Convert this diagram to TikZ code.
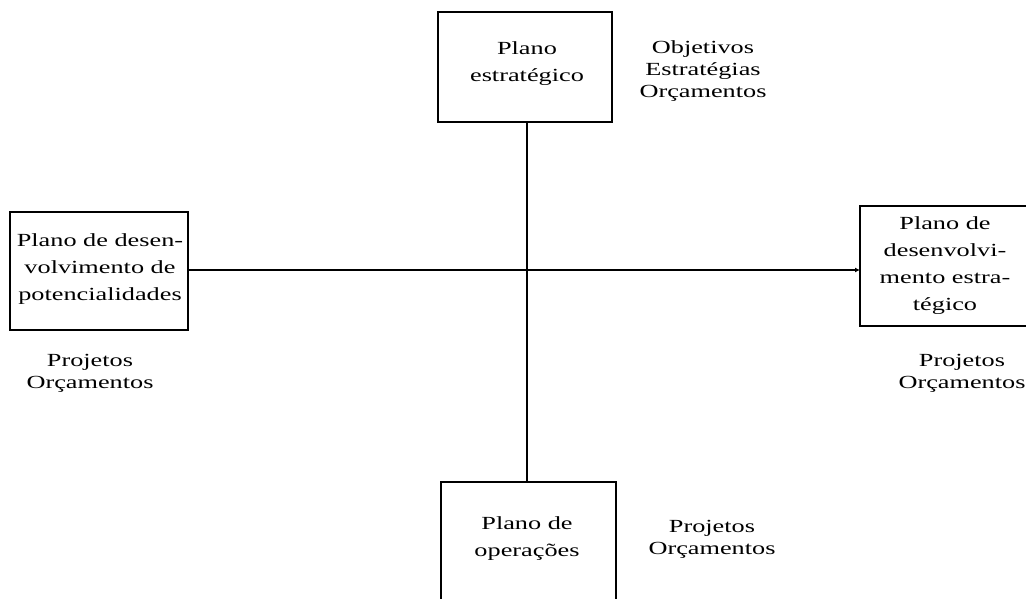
\documentclass[tikz,border=0pt]{standalone}
\usepackage{fontspec}
\setmainfont{Liberation Serif}[FakeStretch=1.42]
\usetikzlibrary{arrows.meta}
\begin{document}
\begin{tikzpicture}[x=1pt,y=-1pt,
  planbox/.style={draw,line width=1.9pt},
  plantext/.style={align=center,font=\fontsize{18.5}{27}\selectfont,inner sep=0pt},
  note/.style={align=center,font=\fontsize{18.5}{22}\selectfont,inner sep=0pt},
  link/.style={line width=1.9pt}]
\useasboundingbox (0,0) rectangle (1026,598);
\begin{scope}
\clip (0,0) rectangle (1026,598);
% boxes
\draw[planbox] (438,12) rectangle (612,122);
\draw[planbox] (10,212) rectangle (188,330);
\draw[planbox] (860,206) rectangle (1032,326);
\draw[planbox] (441,482) rectangle (616,610);
% anchor points on the boxes
\coordinate (top) at (527,122);
\coordinate (bot) at (527,482);
\coordinate (left) at (188,270);
\coordinate (right) at (860,270);
\draw[link] (top) -- (bot);
\draw[link,-{Latex[length=5pt,width=5pt]}] (left) -- (right);
\end{scope}
% box labels
\node[plantext] (ps) at (527,64) {Plano\\estratégico};
\node[plantext] (pdp) at (100,269) {Plano de desen-\\volvimento de\\potencialidades};
\node[plantext] (pde) at (945,266) {Plano de\\desenvolvi-\\mento estra-\\tégico};
\node[plantext] (po) at (527,539) {Plano de\\operações};
% side notes
\node[note] (n1) at (703,71) {Objetivos\\Estratégias\\Orçamentos};
\node[note] (n2) at (90,373) {Projetos\\Orçamentos};
\node[note] (n3) at (962,373) {Projetos\\Orçamentos};
\node[note] (n4) at (712,539) {Projetos\\Orçamentos};
\end{tikzpicture}
\end{document}
